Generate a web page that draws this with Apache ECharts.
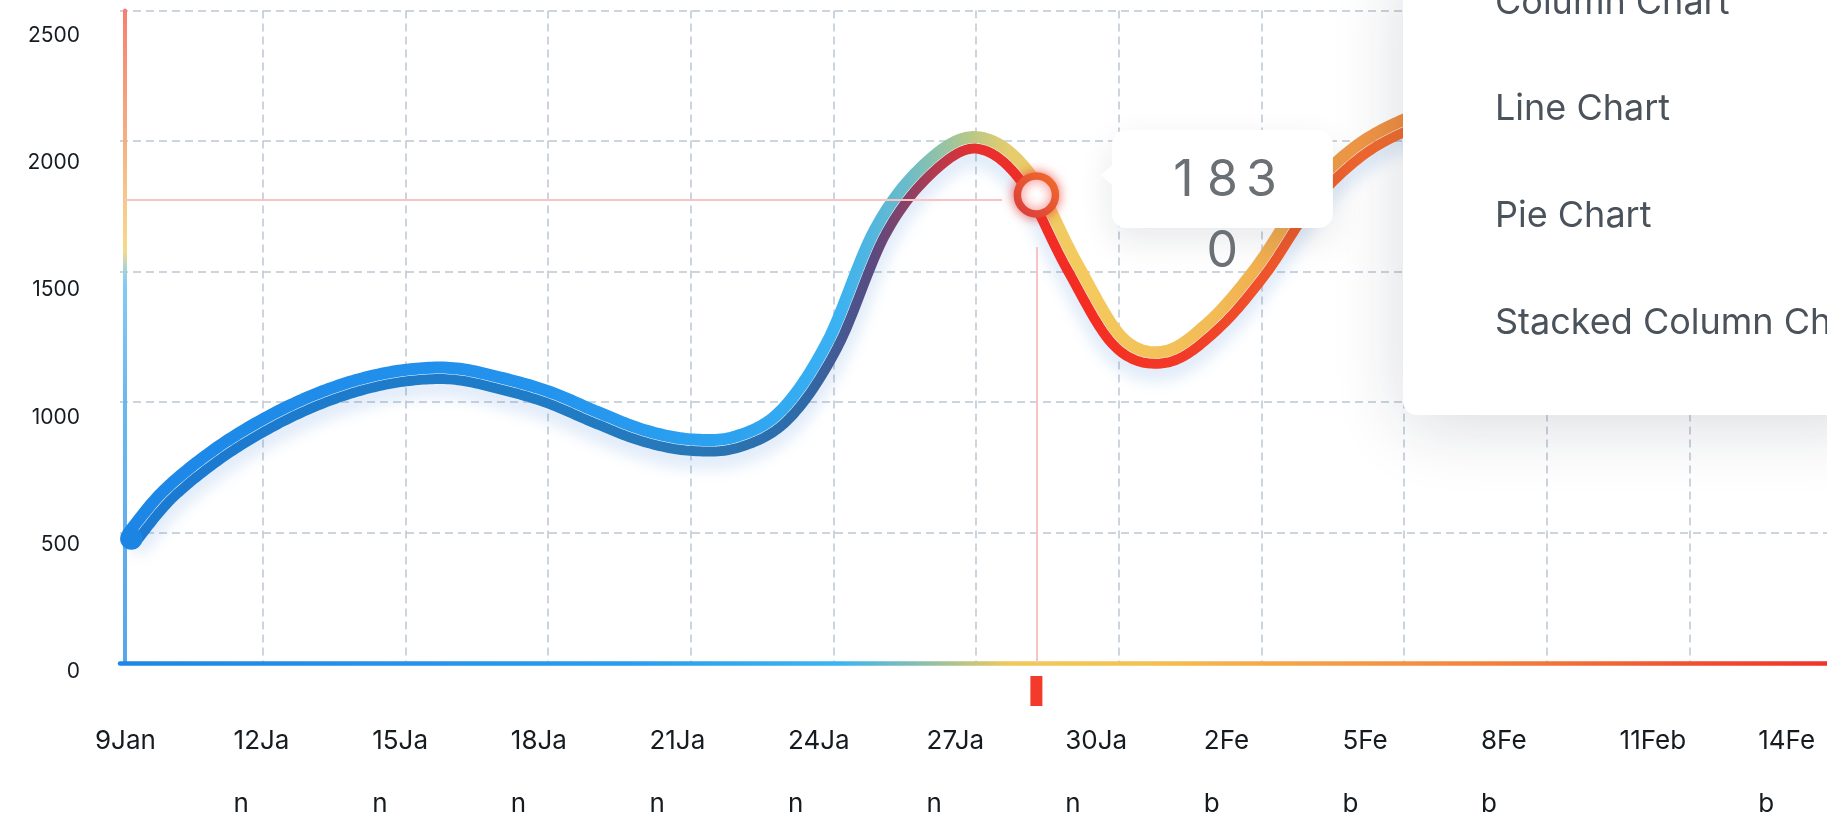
<!DOCTYPE html>
<html>
<head>
<meta charset="utf-8">
<script src="https://cdn.jsdelivr.net/npm/echarts@6/dist/echarts.min.js"></script>
<style>
  html, body { margin: 0; padding: 0; background: #ffffff; }
  #chart { width: 1827px; height: 818px; }
</style>
</head>
<body>
<div id="chart"></div>
<script>
// ---------------- data ----------------
// x = days after 9 Jan
const tickLabels = ['9Jan', '12Ja\nn', '15Ja\nn', '18Ja\nn', '21Ja\nn', '24Ja\nn', '27Ja\nn',
                    '30Ja\nn', '2Fe\nb', '5Fe\nb', '8Fe\nb', '11Feb', '14Fe\nb'];
const days   = [0.25, 1, 2, 3, 4, 5, 6, 7, 8, 9, 10, 11, 12, 13, 14, 15, 16, 17, 18, 19,
                20, 21, 22, 23, 24, 25, 26, 27, 28, 29, 30, 31, 32, 33, 34, 35, 36];
const values = [475, 640, 790, 905, 995, 1060, 1098, 1105, 1068, 1015, 938, 868, 832, 845, 950, 1220, 1650, 1890, 1990, 1865,
                1520, 1225, 1170, 1290, 1500, 1770, 1950, 2055, 2115, 2150, 2170, 2180, 2185, 2180, 2170, 2160, 2150];
const pointerDay = 19.27;
const pointerValue = 1793;
const tooltipValue = '1830';
const crossH = [0.1, 18.55, 1774];   // from day, to day, at value
const crossV = [19.27, 1594, 0];     // at day, from value, to value
const menuItems = ['Column Chart', 'Line Chart', 'Pie Chart', 'Stacked Column Chart'];

// ---------------- styles ----------------
const FONT = 'Inter';
const upperStops = [
  [0, '#1c86e6'], [0.25, '#2394ee'], [0.36, '#2da3f0'], [0.42, '#3bb2f2'], [0.46, '#6cbcc8'],
  [0.495, '#b4c88a'], [0.52, '#e6cc6c'], [0.56, '#f4ca5e'], [0.64, '#f2bb56'], [0.70, '#f0a04a'],
  [0.76, '#f08a40'], [0.88, '#f05a30'], [1, '#f03a2a']
];
const lowerStops = [
  [0, '#1a7ad2'], [0.25, '#1f7cc6'], [0.33, '#2878b8'], [0.40, '#2e6aa8'], [0.44, '#5a4a80'],
  [0.475, '#b03a50'], [0.50, '#e8302e'], [0.56, '#f42c22'], [0.62, '#f23a26'], [0.68, '#ee5a2c'],
  [0.75, '#f06e30'], [1, '#f05a2a']
];
const xAxisStops = [
  [0, '#1e86e6'], [0.3, '#2a9cef'], [0.42, '#3bb4f2'], [0.47, '#8cc0a8'], [0.52, '#f2c85a'],
  [0.6, '#f4c052'], [0.67, '#f5a848'], [0.75, '#f59042'], [0.83, '#f2763a'], [0.92, '#f04e30'], [1, '#f03228']
];
const yAxisStops = [
  [0, '#4ea0ec'], [0.4, '#62b4f0'], [0.58, '#7cc8f4'], [0.605, '#a8d2cc'], [0.63, '#f4d884'],
  [0.72, '#f6c384'], [0.8, '#f6aa7c'], [1, '#f67868']
];
function stopsToColor(stops) { return stops.map(s => ({ offset: s[0], color: s[1] })); }

function catmull(pts, seg) {
  const out = [];
  for (let i = 0; i < pts.length - 1; i++) {
    const p0 = pts[Math.max(i - 1, 0)], p1 = pts[i], p2 = pts[i + 1], p3 = pts[Math.min(i + 2, pts.length - 1)];
    for (let s = 0; s < seg; s++) {
      const t = s / seg, t2 = t * t, t3 = t2 * t;
      const f = k => 0.5 * ((2 * p1[k]) + (-p0[k] + p2[k]) * t + (2 * p0[k] - 5 * p1[k] + 4 * p2[k] - p3[k]) * t2 + (-p0[k] + 3 * p1[k] - 3 * p2[k] + p3[k]) * t3);
      out.push([f(0), f(1)]);
    }
  }
  out.push(pts[pts.length - 1].slice());
  return out;
}
function normals(c) {
  return c.map((p, i) => {
    const a = c[Math.max(i - 1, 0)], b = c[Math.min(i + 1, c.length - 1)];
    let tx = b[0] - a[0], ty = b[1] - a[1];
    const l = Math.hypot(tx, ty) || 1; tx /= l; ty /= l;
    return [-ty, tx];
  });
}

const chart = echarts.init(document.getElementById('chart'), null, { renderer: 'canvas' });

const option = {
  animation: false,
  backgroundColor: '#ffffff',
  grid: [
    { left: 120, right: -5, top: 10.5, bottom: 155, containLabel: false, outerBoundsMode: 'none' },
    { left: 95, right: 1827 - 95 - 12 * 138.6, top: 35.4, bottom: 146, containLabel: false, outerBoundsMode: 'none' }
  ],
  xAxis: [
    {
      type: 'value', gridIndex: 0, min: 0, max: 36, interval: 3,
      axisLine: { show: true, lineStyle: { width: 4.5, cap: 'round',
        color: { type: 'linear', x: 0, y: 0, x2: 1, y2: 0, colorStops: stopsToColor(xAxisStops) } } },
      axisTick: { show: false },
      axisLabel: { show: false },
      splitLine: { show: true, showMinLine: false, lineStyle: { color: '#bcc7d3', width: 1.5, type: [8, 5] } }
    },
    {
      type: 'value', gridIndex: 1, min: 0, max: 36, interval: 3,
      axisLine: { show: false }, axisTick: { show: false }, splitLine: { show: false },
      axisLabel: {
        show: true, showMinLabel: true, showMaxLabel: true, align: 'left', margin: 38,
        fontFamily: FONT, fontSize: 26, lineHeight: 63, color: '#161b20',
        formatter: v => tickLabels[Math.round(v / 3)] || ''
      }
    }
  ],
  yAxis: [
    {
      type: 'value', gridIndex: 0, min: 0, max: 2500, interval: 500, offset: -5,
      axisLine: { show: true, lineStyle: { width: 4, cap: 'round', opacity: 0.95,
        color: { type: 'linear', x: 0, y: 1, x2: 0, y2: 0, colorStops: stopsToColor(yAxisStops) } } },
      axisTick: { show: false },
      axisLabel: { show: false },
      splitLine: { show: true, lineStyle: { color: '#bcc7d3', width: 1.5, type: [8, 5] } }
    },
    {
      type: 'value', gridIndex: 1, min: 0, max: 2500, interval: 500,
      axisLine: { show: false }, axisTick: { show: false }, splitLine: { show: false },
      axisLabel: { show: true, margin: 15, fontFamily: FONT, fontSize: 21, color: '#161b20',
                   formatter: v => String(v) }
    }
  ],
  series: [
    {
      type: 'custom',
      xAxisIndex: 0, yAxisIndex: 0,
      z: 3,
      data: days.map((d, i) => [d, values[i]]),
      renderItem: function (params, api) {
        if (params.dataIndexInside !== 0) return null;
        const pts = days.map((d, i) => api.coord([d, values[i]]));
        const curve = catmull(pts, 16);
        const n = normals(curve);
        const up = curve.map((p, i) => [p[0] - n[i][0] * 6.5, p[1] - n[i][1] * 6.5]);
        const lo = curve.map((p, i) => [p[0] + n[i][0] * 5, p[1] + n[i][1] * 5]);
        const xa = api.coord([0, 0])[0], xb = api.coord([36, 0])[0];
        const g = (stops) => new echarts.graphic.LinearGradient(xa, 0, xb, 0, stopsToColor(stops), true);
        const c0 = curve[0], n0 = n[0];
        return {
          type: 'group',
          children: [
            { type: 'polyline', shape: { points: lo },
              style: { fill: 'none', stroke: g(lowerStops), lineWidth: 10, lineCap: 'butt', lineJoin: 'round',
                       shadowBlur: 18, shadowColor: 'rgba(30,110,210,0.28)', shadowOffsetY: 8 } },
            { type: 'polyline', shape: { points: up },
              style: { fill: 'none', stroke: g(upperStops), lineWidth: 12, lineCap: 'butt', lineJoin: 'round' } },
            { type: 'circle', shape: { cx: c0[0] - n0[0] * 0.75, cy: c0[1] - n0[1] * 0.75, r: 11.2 },
              style: { fill: '#1c84e3' } }
          ]
        };
      }
    },
    {
      type: 'scatter',
      xAxisIndex: 0, yAxisIndex: 0,
      z: 6,
      data: [[pointerDay, pointerValue]],
      symbol: 'circle',
      symbolSize: 38,
      itemStyle: {
        opacity: 1,
        color: '#ffffff',
        borderWidth: 7.5,
        borderColor: { type: 'linear', x: 1, y: 0, x2: 0, y2: 1,
          colorStops: [{ offset: 0, color: '#f3702a' }, { offset: 1, color: '#d8383c' }] },
        shadowBlur: 12, shadowColor: 'rgba(240,50,40,0.65)'
      },
      markLine: {
        silent: true, symbol: ['none', 'none'], label: { show: false },
        lineStyle: { color: '#f8c3c3', width: 2, type: 'solid', opacity: 1 },
        data: [
          [{ coord: [crossH[0], crossH[2]] }, { coord: [crossH[1], crossH[2]] }],
          [{ coord: [crossV[0], crossV[1]] }, { coord: [crossV[0], crossV[2]] }]
        ]
      },
      markPoint: {
        silent: true,
        symbol: 'rect', symbolSize: [12, 30], symbolOffset: [0, 28],
        itemStyle: { color: '#f23b2b', opacity: 1 },
        label: { show: false },
        data: [{ coord: [pointerDay, 0] }]
      }
    }
  ]
};
chart.setOption(option);

// overlays: tooltip (anchored at the pointer) and chart-type menu
const P = chart.convertToPixel({ xAxisIndex: 0, yAxisIndex: 0 }, [pointerDay, pointerValue]);
const tipChars = tooltipValue.split('');
const tipText = tipChars.slice(0, 3).map(c => '{d|' + c + '}').join('') + '\n' +
                tipChars.slice(3).map(c => '{d|' + c + '}').join('');
const menuTop = 3;
const menuElems = [
  { type: 'rect', z: 100, shape: { x: 1403, y: -40, width: 480, height: 455, r: [0, 0, 0, 14] },
    style: { fill: '#ffffff', shadowBlur: 70, shadowColor: 'rgba(20,30,50,0.16)', shadowOffsetY: 10 } }
].concat(menuItems.map((t, i) => ({
  type: 'text', z: 101,
  style: { text: t, x: 1495, y: menuTop + i * 106.6, align: 'left', verticalAlign: 'middle',
           fontSize: 36, fontFamily: FONT, fill: '#4a525b' }
})));
chart.setOption({
  graphic: [
    { type: 'rect', z: 50, shape: { x: P[0] + 75.5, y: P[1] - 65, width: 221, height: 98, r: 14 },
      style: { fill: '#ffffff', shadowBlur: 34, shadowColor: 'rgba(20,30,50,0.10)', shadowOffsetY: 12 } },
    { type: 'polygon', z: 51, shape: { points: [[P[0] + 77, P[1] - 31], [P[0] + 64.5, P[1] - 20], [P[0] + 77, P[1] - 9]] },
      style: { fill: '#ffffff' } },
    { type: 'text', z: 52,
      style: { text: tipText, x: P[0] + 186, y: P[1] - 50, align: 'center', verticalAlign: 'top',
               rich: { d: { width: 39, align: 'center', fontSize: 50, fontFamily: FONT, fill: '#6b7075', lineHeight: 71 } } } }
  ].concat(menuElems)
});
</script>
</body>
</html>
